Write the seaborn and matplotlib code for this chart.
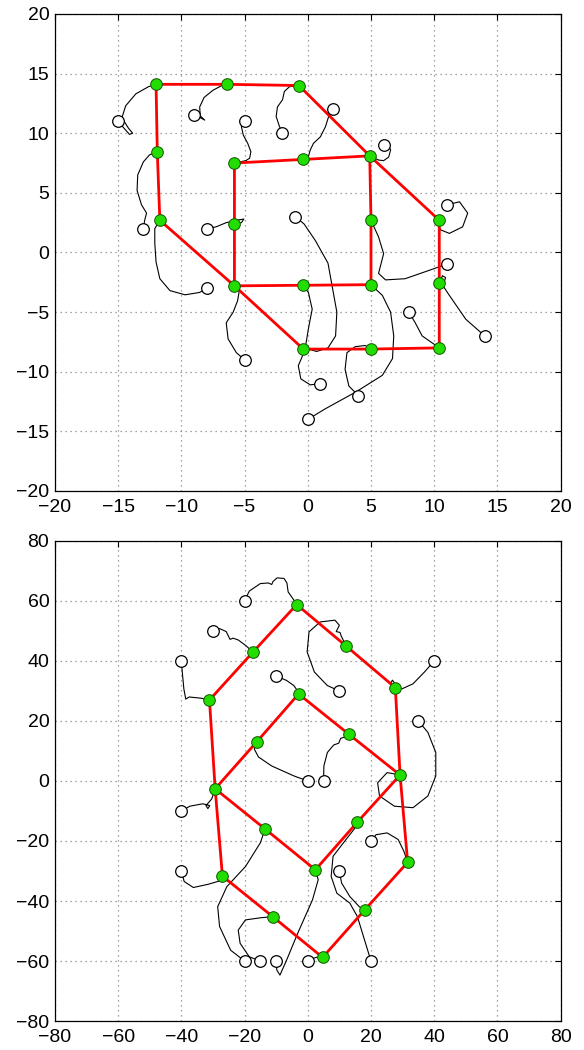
import numpy as np
import matplotlib
matplotlib.use("Agg")
import matplotlib.pyplot as plt
import seaborn as sns

# ---------------- Top panel data ----------------
top_node_x = [-12.0, -6.4, -0.7, -11.9, -5.8, -0.4, 4.9, -11.7, -5.8, 5.0, 10.4,
              -5.8, -0.4, 5.0, 10.4, -0.35, 5.0, 10.4]
top_node_y = [14.1, 14.1, 14.0, 8.4, 7.5, 7.8, 8.1, 2.7, 2.35, 2.7, 2.7,
              -2.8, -2.75, -2.7, -2.6, -8.1, -8.1, -8.0]
# outer hexagon and inner square (node indices)
top_outer = [0, 1, 2, 6, 10, 14, 17, 16, 15, 11, 7, 3, 0]
top_inner = [4, 5, 6, 9, 13, 12, 11, 8, 4]

top_traj = [
    [(-15, 11), (-14.6, 10.5), (-14.1, 9.9), (-13.85, 10.0), (-14.2, 10.45), (-14.7, 11.3),
     (-14.4, 12.3), (-13.6, 13.3), (-12.6, 13.9), (-12.0, 14.1)],
    [(-9, 11.5), (-8.5, 11.3), (-8.15, 11.1), (-8.5, 11.45), (-8.55, 12.2), (-8.2, 13.0),
     (-7.5, 13.6), (-6.8, 14.0), (-6.4, 14.1)],
    [(-2, 10), (-2.25, 10.6), (-2.5, 11.4), (-2.4, 12.2), (-2.0, 12.8), (-1.85, 13.5),
     (-1.45, 13.9), (-0.7, 14.0)],
    [(-13, 2), (-12.9, 2.7), (-12.75, 3.3), (-13.15, 4.0), (-13.5, 5.2), (-13.45, 6.5),
     (-13.0, 7.6), (-12.5, 8.2), (-11.9, 8.4)],
    [(-5, 11), (-5.25, 10.55), (-5.1, 9.85), (-4.75, 9.15), (-4.5, 8.45), (-4.6, 7.9),
     (-4.9, 7.7), (-5.8, 7.5)],
    [(2, 12), (1.65, 11.4), (1.4, 10.55), (1.0, 9.7), (0.45, 9.15), (0.2, 8.6),
     (0.05, 8.05), (-0.4, 7.8)],
    [(6, 9), (6.3, 9.15), (6.55, 8.6), (6.4, 8.0), (6.0, 7.7), (5.6, 7.75), (4.9, 8.1)],
    [(-8, -3), (-8.55, -3.35), (-9.7, -3.55), (-10.9, -3.2), (-11.7, -2.2), (-12.0, -0.8),
     (-12.1, 0.8), (-12.1, 2.0), (-11.7, 2.7)],
    [(-8, 2), (-7.25, 2.15), (-6.45, 2.5), (-5.65, 2.7), (-5.05, 2.8), (-5.25, 2.5),
     (-5.65, 2.35), (-5.8, 2.35)],
    [(11, -1), (10.8, -1.05), (9.6, -1.5), (7.7, -2.2), (6.15, -2.3), (5.6, -1.75),
     (6.0, -0.1), (5.6, 1.3), (5.0, 2.7)],
    [(11, 4), (12.0, 4.25), (12.65, 3.3), (12.25, 2.15), (11.2, 1.6), (10.5, 1.9),
     (10.3, 2.45), (10.4, 2.7)],
    [(-5, -9), (-5.65, -8.4), (-6.3, -7.25), (-6.45, -5.9), (-5.9, -5.0), (-5.55, -4.05),
     (-5.4, -3.1), (-5.8, -2.8)],
    [(1, -11), (0.2, -11.1), (-0.55, -10.6), (-0.75, -9.5), (-0.35, -8.5), (-0.15, -7.7),
     (0.05, -6.4), (0.35, -4.75), (0.05, -3.35), (-0.4, -2.75)],
    [(0, -14), (1.4, -13.1), (3.8, -11.7), (5.9, -10.3), (6.7, -8.9), (6.8, -7.0),
     (6.55, -5.0), (5.9, -3.6), (5.2, -2.9), (5.0, -2.7)],
    [(14, -7), (12.5, -5.6), (11.2, -3.6), (10.7, -2.8), (10.9, -2.1), (10.65, -1.95),
     (10.45, -2.5), (10.4, -2.6)],
    [(-1, 3), (-0.3, 2.4), (0.6, 1.0), (1.6, -0.9), (2.3, -5.0), (2.2, -7.0),
     (1.6, -8.0), (0.7, -8.3), (0.05, -8.1), (-0.35, -8.1)],
    [(4, -12), (3.25, -11.2), (2.95, -9.8), (3.1, -8.4), (3.75, -7.9), (4.55, -7.8),
     (5.0, -8.1)],
    [(8, -5), (8.5, -5.9), (9.05, -7.0), (10.0, -7.7), (10.4, -8.0)],
]
top_ticks = [-20, -15, -10, -5, 0, 5, 10, 15, 20]

# ---------------- Bottom panel data ----------------
bot_node_x = [-3.5, -17.3, 12.1, -31.1, 27.7, -2.9, -16.1, 13.1, -29.3, 29.2,
              -13.5, 15.7, -27.0, 2.4, 31.6, -11.1, 18.0, 4.7]
bot_node_y = [58.8, 43.0, 45.0, 27.0, 31.1, 29.0, 13.1, 15.5, -2.6, 2.0,
              -16.0, -13.7, -31.7, -29.6, -27.1, -45.2, -43.0, -58.8]
bot_outer = [0, 1, 3, 8, 12, 15, 17, 16, 14, 9, 4, 2, 0]
bot_inner = [5, 6, 8, 10, 13, 11, 9, 7, 5]

bot_traj = [
    [(-20, 60), (-18.5, 63.3), (-15.0, 65.8), (-12.5, 66.0), (-11.4, 65.5), (-11.0, 66.5),
     (-9.7, 67.7), (-7.5, 67.5), (-6.6, 66.0), (-6.2, 63.0), (-4.4, 60.3), (-3.5, 58.8)],
    [(-30, 50), (-27.9, 50.8), (-25.8, 49.8), (-24.6, 47.2), (-23.6, 47.6), (-22.0, 47.0),
     (-19.7, 45.2), (-17.3, 43.0)],
    [(-40, 40), (-39.7, 36.3), (-39.2, 30.7), (-38.6, 27.3), (-37.5, 28.0), (-33.8, 27.6),
     (-31.1, 27.0)],
    [(10, 30), (6.2, 31.8), (2.1, 36.3), (-0.2, 43.0), (0.4, 49.7), (3.9, 53.0),
     (8.6, 53.6), (10.0, 51.9), (9.0, 49.8), (10.2, 49.5), (10.6, 48.3), (12.1, 45.0)],
    [(40, 40), (36.9, 36.3), (33.3, 32.4), (29.8, 30.7), (27.3, 31.0), (26.2, 32.6),
     (26.8, 33.6), (27.6, 32.4), (27.7, 31.1)],
    [(-10, 35), (-6.7, 33.5), (-4.4, 31.8), (-3.2, 30.0), (-3.5, 27.8), (-2.8, 27.5),
     (-2.9, 29.0)],
    [(0, 0), (-4.4, 1.7), (-11.4, 5.0), (-15.6, 8.0), (-16.9, 10.6), (-16.1, 13.1)],
    [(5, 0), (5.1, 5.0), (6.2, 9.5), (8.2, 12.0), (9.8, 12.6), (10.4, 14.2), (11.5, 14.6),
     (13.1, 15.5)],
    [(35, 20), (38.0, 16.2), (40.5, 9.5), (40.5, 1.7), (38.0, -5.0), (33.3, -8.9),
     (27.4, -8.4), (22.7, -5.0), (22.1, -0.6), (25.1, 2.8), (29.2, 2.0)],
    [(-40, -10), (-37.3, -8.4), (-33.2, -7.6), (-31.0, -8.2), (-31.6, -9.2), (-32.2, -8.2),
     (-30.4, -6.0), (-29.3, -2.6)],
    [(-20, -60), (-24.4, -56.4), (-27.9, -48.5), (-28.5, -41.9), (-25.6, -35.2),
     (-19.7, -28.5), (-15.0, -20.6), (-13.5, -16.0)],
    [(20, -60), (18.6, -55.2), (15.7, -45.2), (13.3, -40.7), (9.2, -37.4), (7.4, -31.8),
     (8.0, -25.1), (12.1, -19.5), (15.0, -15.6), (15.7, -13.7)],
    [(-40, -30), (-39.1, -33.5), (-36.2, -35.5), (-31.4, -34.4), (-27.9, -33.3), (-27.0, -31.7)],
    [(-10, -60), (-9.8, -63.0), (-8.8, -64.7), (-6.7, -59.7), (-3.2, -50.8), (1.5, -39.6),
     (3.3, -32.9), (2.4, -29.6)],
    [(20, -20), (21.6, -17.9), (25.1, -17.3), (28.6, -19.5), (30.4, -23.4), (31.6, -27.1)],
    [(-15, -60), (-18.5, -58.6), (-21.4, -54.1), (-22.0, -49.7), (-19.7, -46.3),
     (-15.0, -45.6), (-11.1, -45.2)],
    [(10, -30), (10.7, -34.0), (13.3, -38.5), (16.3, -41.9), (18.0, -43.0)],
    [(0, -60), (1.5, -59.2), (3.3, -58.6), (4.7, -58.8)],
]
bot_ticks = [-80, -60, -40, -20, 0, 20, 40, 60, 80]

# ---------------- Drawing ----------------
sns.set_style("white")
plt.rcParams['font.family'] = ['Liberation Sans', 'DejaVu Sans']

fig = plt.figure(figsize=(5.84, 10.5), dpi=100)
ax_top = fig.add_axes([0.094, 0.5324, 0.866, 0.4543])
ax_bot = fig.add_axes([0.094, 0.0276, 0.866, 0.4572])


def draw_panel(ax, node_x, node_y, outer, inner, trajs, ticks):
    lim = (ticks[0], ticks[-1])
    for tr in trajs:
        xs = [p[0] for p in tr]
        ys = [p[1] for p in tr]
        sns.lineplot(x=xs, y=ys, sort=False, estimator=None, ax=ax,
                     color='black', lw=0.8, zorder=2)
    for idx in (outer, inner):
        sns.lineplot(x=[node_x[i] for i in idx], y=[node_y[i] for i in idx],
                     sort=False, estimator=None, ax=ax, color='#ff0000', lw=2.0, zorder=3)
    sx = [tr[0][0] for tr in trajs]
    sy = [tr[0][1] for tr in trajs]
    sns.scatterplot(x=sx, y=sy, ax=ax, s=70, facecolor='white', edgecolor='black',
                    linewidth=0.9, zorder=4)
    sns.scatterplot(x=node_x, y=node_y, ax=ax, s=70, color='#22dd00', edgecolor='#115500',
                    linewidth=0.7, zorder=5)
    ax.set_xlim(*lim)
    ax.set_ylim(*lim)
    ax.set_xticks(ticks)
    ax.set_yticks(ticks)
    ax.grid(True, linestyle=(0, (1, 3)), color='#888888', linewidth=0.9)
    ax.tick_params(direction='in', length=4, width=0.8, top=True, right=True,
                   labelsize=14, colors='black')
    ax.tick_params(axis='x', pad=6)
    ax.tick_params(axis='y', pad=4)
    for sp in ax.spines.values():
        sp.set_color('black')
        sp.set_linewidth(0.9)
    ax.set_xlabel('')
    ax.set_ylabel('')


draw_panel(ax_top, top_node_x, top_node_y, top_outer, top_inner, top_traj, top_ticks)
draw_panel(ax_bot, bot_node_x, bot_node_y, bot_outer, bot_inner, bot_traj, bot_ticks)

fig.savefig('out.png', dpi=100)
